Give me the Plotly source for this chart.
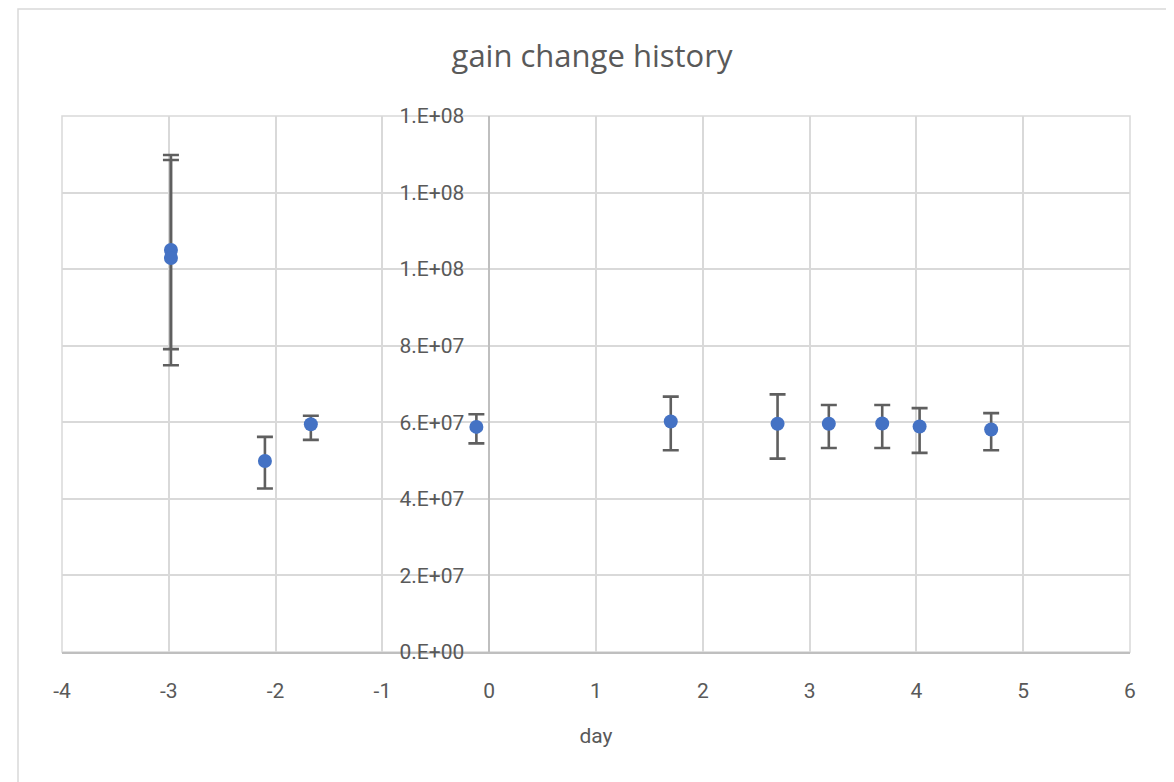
import plotly.graph_objects as go

# ---- data ----
days = [-2.98, -2.98, -2.10, -1.67, -0.12, 1.70, 2.70, 3.18, 3.68, 4.03, 4.70]
gain = [105.0e6, 102.9e6, 49.9e6, 59.5e6, 58.8e6, 60.2e6, 59.6e6, 59.6e6, 59.7e6, 58.9e6, 58.1e6]
err_plus = [24.8e6, 25.6e6, 6.3e6, 2.2e6, 3.3e6, 6.5e6, 7.7e6, 4.9e6, 4.8e6, 4.8e6, 4.3e6]
err_minus = [25.9e6, 28.0e6, 7.2e6, 4.1e6, 4.3e6, 7.5e6, 9.1e6, 6.3e6, 6.4e6, 6.9e6, 5.4e6]

x_ticks = [-4, -3, -2, -1, 0, 1, 2, 3, 4, 5, 6]
x_tick_text = ["-4", "-3", "-2", "-1", "0", "1", "2", "3", "4", "5", "6"]
y_ticks = [0, 2e7, 4e7, 6e7, 8e7, 1e8, 1.2e8, 1.4e8]
y_tick_text = ["0.E+00", "2.E+07", "4.E+07", "6.E+07", "8.E+07", "1.E+08", "1.E+08", "1.E+08"]

TEXT = "#595959"
GRID = "#d9d9d9"
FONT = "Roboto"

fig = go.Figure()
fig.add_trace(go.Scatter(
    x=days, y=gain, mode="markers",
    marker=dict(color="#4472c4", size=14),
    error_y=dict(type="data", symmetric=False, array=err_plus, arrayminus=err_minus,
                 color="#5f5f5f", thickness=2.6, width=8),
    showlegend=False,
))

W, H = 1174, 782
OFF = 8  # page body margin offset
L, R, T, B = 62 - OFF, 1130 - OFF, 116 - OFF, 652 - OFF

fig.update_layout(
    width=W, height=H,
    margin=dict(l=L, r=W - R, t=T, b=H - B, autoexpand=False),
    paper_bgcolor="white", plot_bgcolor="white",
    font=dict(family=FONT, color=TEXT),
    title=dict(text="gain change history", x=(592 - OFF) / W, y=1 - (56 - OFF) / H,
               xanchor="center", yanchor="middle", xref="container", yref="container",
               font=dict(family="Open Sans", size=31, color=TEXT)),
    xaxis=dict(
        range=[-4, 6], tickmode="array", tickvals=x_ticks, ticktext=x_tick_text,
        showgrid=True, gridcolor=GRID, gridwidth=1.5, zeroline=False,
        showline=True, linecolor="#bfbfbf", linewidth=1.5,
        ticks="outside", ticklen=19, tickcolor="rgba(0,0,0,0)",
        tickfont=dict(size=21, color=TEXT),
        title=dict(text="day", font=dict(size=21, color=TEXT), standoff=26),
        fixedrange=True,
    ),
    yaxis=dict(
        range=[0, 1.4e8], tickmode="array", tickvals=y_ticks, ticktext=y_tick_text,
        anchor="free", position=0.4,
        showgrid=True, gridcolor=GRID, gridwidth=1.5, zeroline=False,
        showline=True, linecolor="#bfbfbf", linewidth=1.5,
        ticks="outside", ticklen=20, tickcolor="rgba(0,0,0,0)",
        tickfont=dict(size=21, color=TEXT),
        fixedrange=True,
    ),
    shapes=[
        # plot area border
        dict(type="rect", xref="paper", yref="paper", x0=0, x1=1, y0=0, y1=1,
             line=dict(color=GRID, width=1.5), layer="below"),
        # chart area border
        dict(type="rect", xref="paper", yref="paper",
             x0=(18 - 62) / (1130 - 62), x1=(1170 - 62) / (1130 - 62),
             y0=(652 - 830) / (652 - 116), y1=(652 - 9) / (652 - 116),
             line=dict(color=GRID, width=1.5), layer="below"),
    ],
)

fig.write_html("out.html")
